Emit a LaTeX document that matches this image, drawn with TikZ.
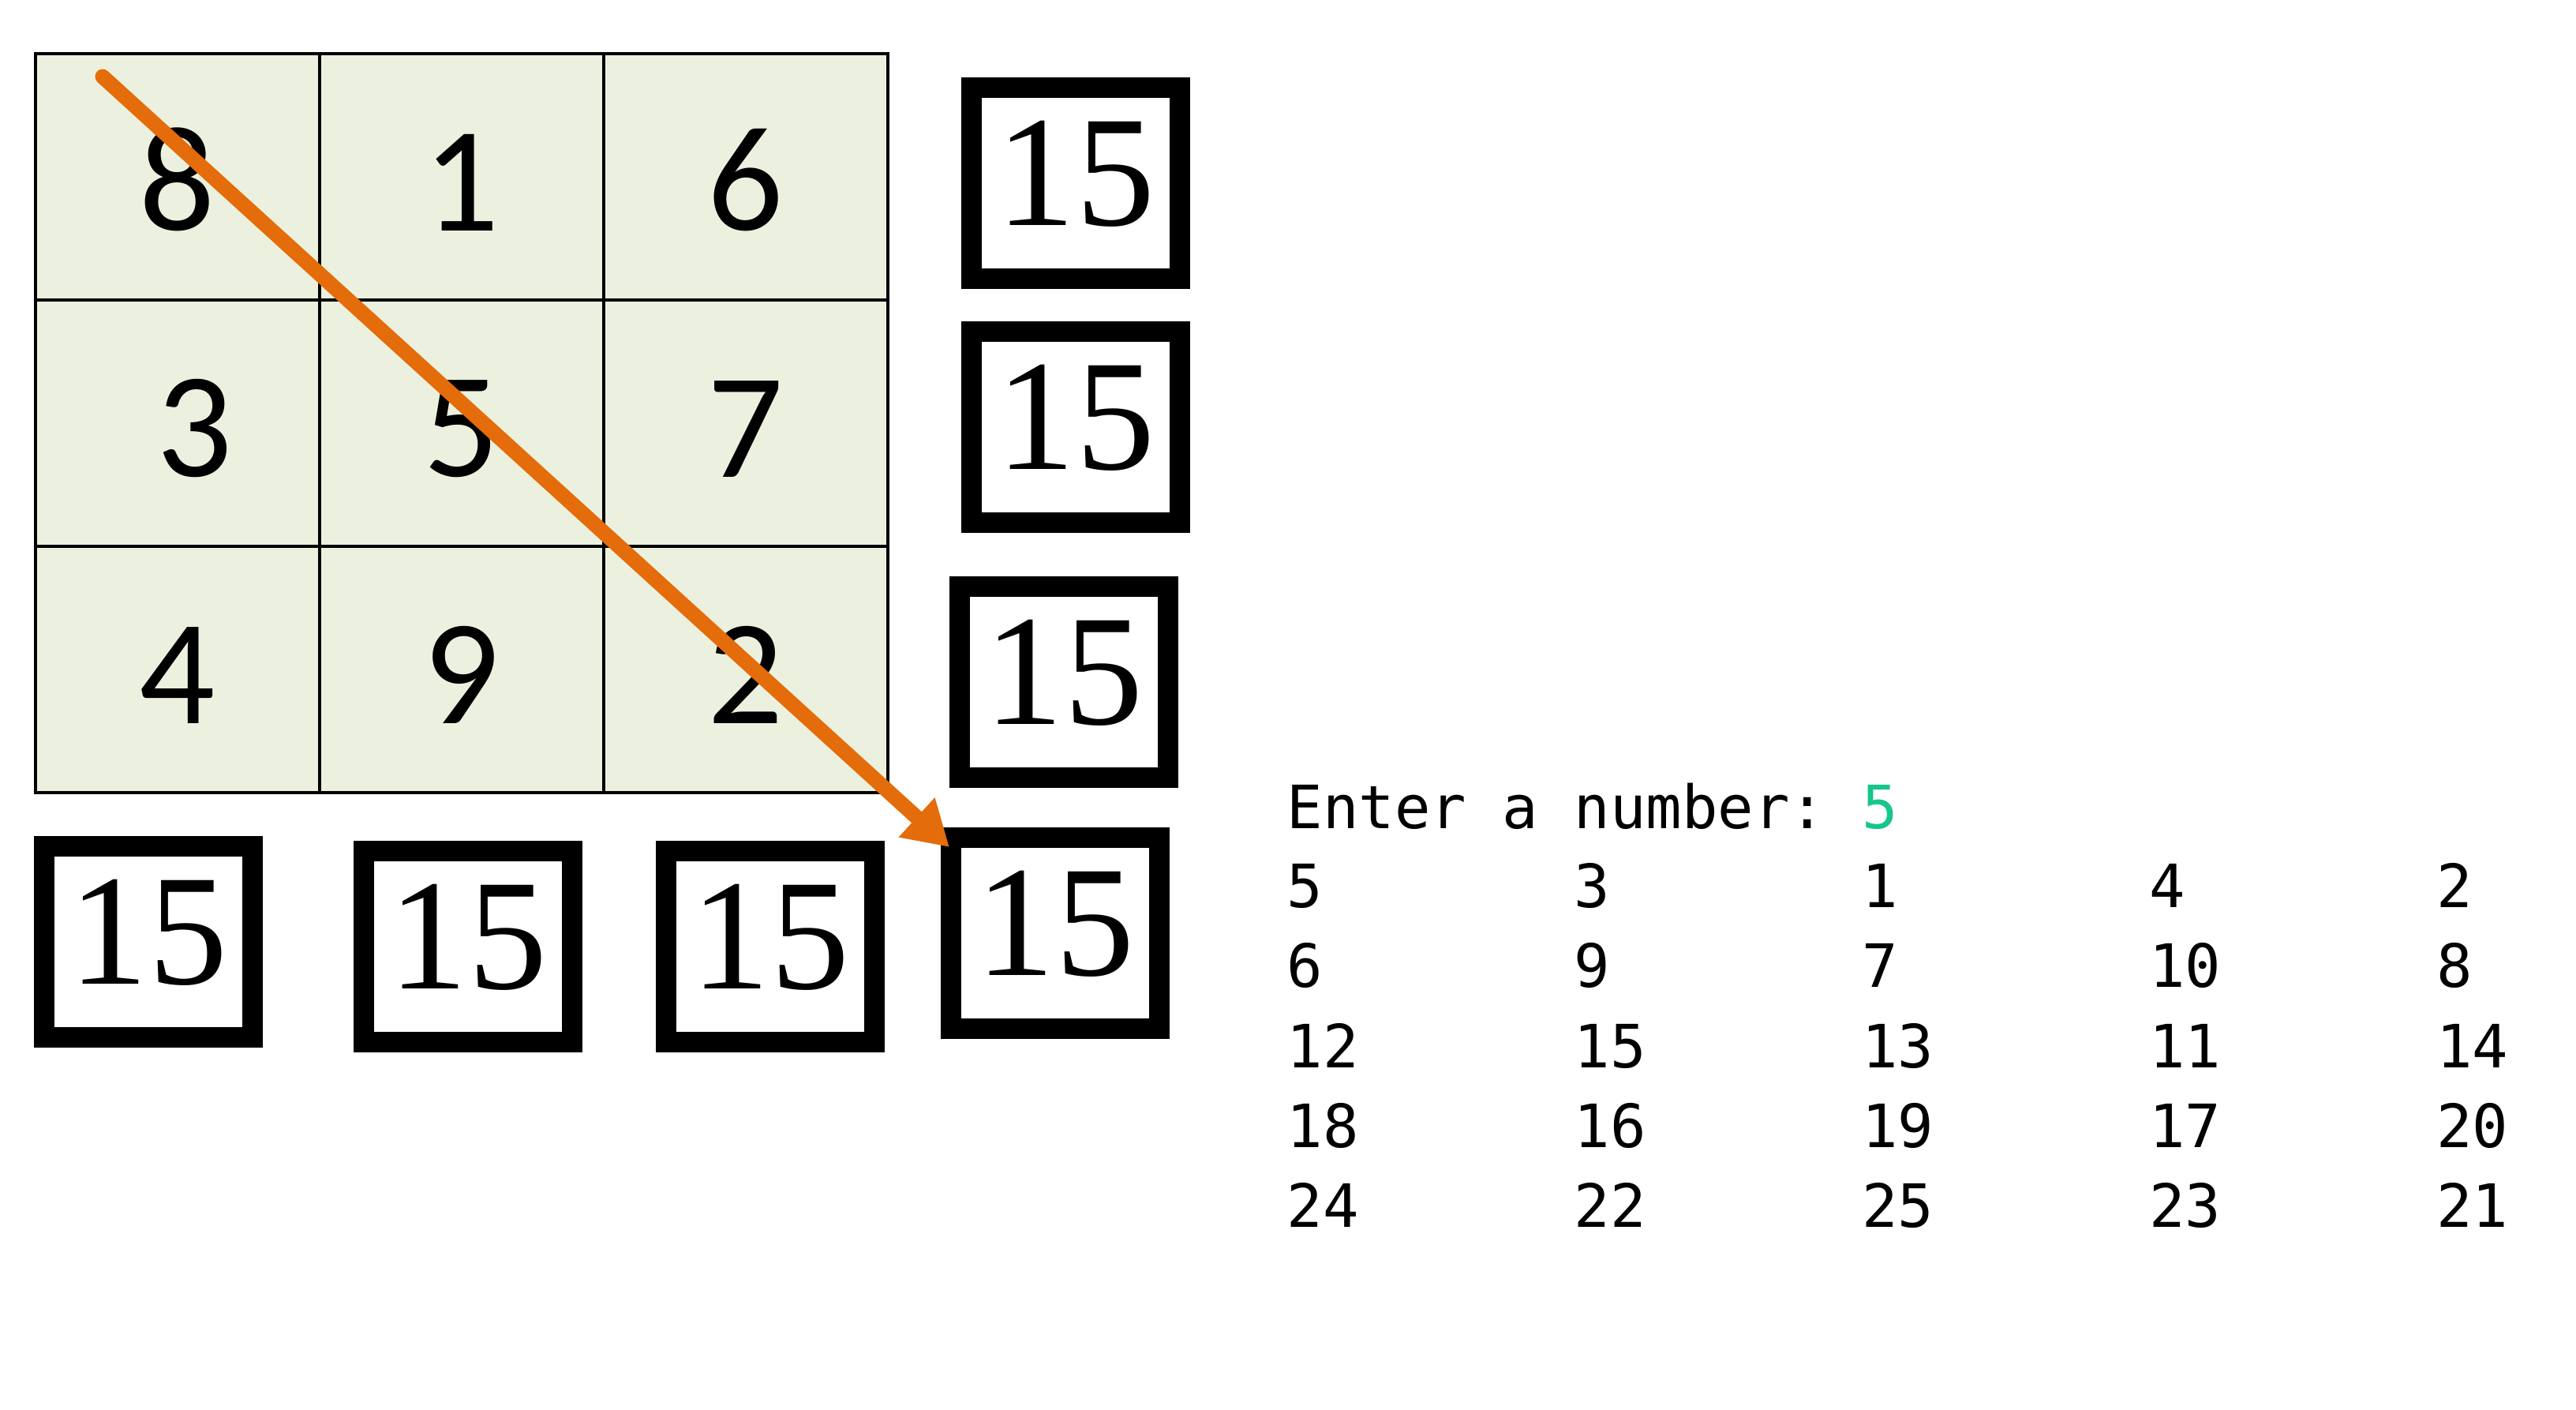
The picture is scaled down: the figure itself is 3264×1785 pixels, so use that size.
\documentclass[tikz,border=0pt]{standalone}
\usepackage{fontspec}
\setmainfont{Carlito}
\newfontfamily\timesfont{Liberation Serif}
\setmonofont{DejaVu Sans Mono}
\usetikzlibrary{arrows.meta}
\definecolor{cellgreen}{RGB}{235,241,222}
\definecolor{arroworange}{RGB}{228,108,10}
\definecolor{inputgreen}{RGB}{22,198,138}
\newcommand{\tabcol}[1]{\makebox[8\fontcharwd\font`0][l]{#1}}
\tikzset{
  cell/.style={draw, line width=1pt, fill=cellgreen, minimum width=3.6cm, minimum height=3.12cm,
    inner sep=0pt, text height=1.36cm, font=\fontsize{54}{60}\selectfont},
  sumbox/.style={draw, line width=0.26cm, fill=white, minimum width=2.64cm, minimum height=2.42cm,
    inner sep=0pt, text depth=0.25cm, font=\timesfont\fontsize{57}{64}\selectfont},
  console/.style={anchor=base west, inner sep=0pt, font=\ttfamily\fontsize{21.5}{24}\selectfont}
}
\begin{document}
\begin{tikzpicture}[x=0.01cm, y=-0.01cm]
        \useasboundingbox (0,0) rectangle (3264,1785);
        % Magic square
        \node[cell] (c1) at (225,224) {8};
        \node[cell] (c2) at (585,224) {1};
        \node[cell] (c3) at (945,224) {6};
        \node[cell] (c4) at (225,536) {\hspace{0.44cm}3};
        \node[cell] (c5) at (585,536) {5};
        \node[cell] (c6) at (945,536) {7};
        \node[cell] (c7) at (225,848) {4};
        \node[cell] (c8) at (585,848) {9};
        \node[cell] (c9) at (945,848) {2};

        % Sums of rows, columns and diagonal
        \node[sumbox] (s1) at (1363,232) {15};
        \node[sumbox] (s2) at (1363,541) {15};
        \node[sumbox] (s3) at (1348,864) {15};
        \node[sumbox] (s4) at (1337,1182) {15};
        \node[sumbox] (s5) at (188,1193) {15};
        \node[sumbox] (s6) at (593,1199) {15};
        \node[sumbox] (s7) at (976,1199) {15};

        % Diagonal
        \coordinate (diagstart) at (130,97);
        \coordinate (diagend) at (1203,1073);
        \draw[arroworange, line width=0.19cm, line cap=round,
          -{Triangle[length=0.56cm, width=0.64cm]}] (diagstart) -- (diagend);

        % Program output
        \node[console] (prompt) at (1630,1049) {Enter a number: \textcolor{inputgreen}{5}};
        \node[console] (row1) at (1630,1149) {\tabcol{5}\tabcol{3}\tabcol{1}\tabcol{4}2};
        \node[console] (row2) at (1630,1250) {\tabcol{6}\tabcol{9}\tabcol{7}\tabcol{10}8};
        \node[console] (row3) at (1630,1352) {\tabcol{12}\tabcol{15}\tabcol{13}\tabcol{11}14};
        \node[console] (row4) at (1630,1453) {\tabcol{18}\tabcol{16}\tabcol{19}\tabcol{17}20};
        \node[console] (row5) at (1630,1554) {\tabcol{24}\tabcol{22}\tabcol{25}\tabcol{23}21};
    \end{tikzpicture}
\end{document}
